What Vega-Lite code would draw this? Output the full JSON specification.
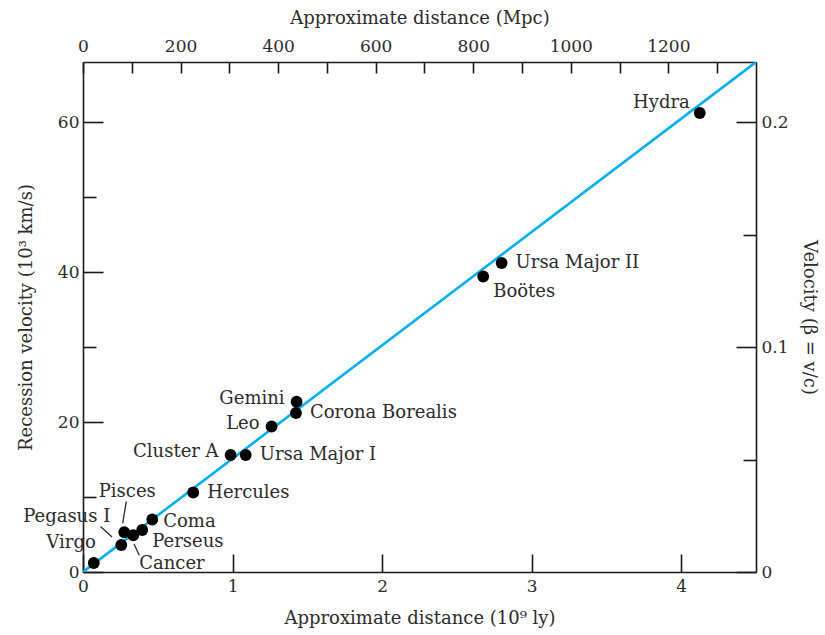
{
  "$schema": "https://vega.github.io/schema/vega-lite/v6.json",
  "width": 673,
  "height": 510,
  "autosize": {"type": "none"},
  "padding": {"left": 83, "top": 62, "right": 69, "bottom": 63},
  "background": "white",
  "config": {
    "view": {"stroke": null},
    "font": "DejaVu Serif",
    "text": {"font": "DejaVu Serif", "fontSize": 18, "color": "#2b2b2b", "baseline": "middle"},
    "axis": {
      "labelFont": "DejaVu Serif",
      "titleFont": "DejaVu Serif",
      "labelFontSize": 17,
      "titleFontSize": 18,
      "titleFontWeight": "normal",
      "labelColor": "#2b2b2b",
      "titleColor": "#2b2b2b",
      "domainColor": "#1a1a1a",
      "tickColor": "#1a1a1a",
      "domainWidth": 1.6,
      "tickWidth": 1.6,
      "grid": false,
      "labelFlush": false,
      "labelOverlap": false
    }
  },
  "datasets": {
    "clusters": [
      {"name": "Virgo", "dist": 0.072, "vel": 1.2},
      {"name": "Pegasus I", "dist": 0.256, "vel": 3.6},
      {"name": "Pisces", "dist": 0.276, "vel": 5.3},
      {"name": "Cancer", "dist": 0.336, "vel": 4.9},
      {"name": "Perseus", "dist": 0.396, "vel": 5.6},
      {"name": "Coma", "dist": 0.463, "vel": 7.0},
      {"name": "Hercules", "dist": 0.737, "vel": 10.6},
      {"name": "Cluster A", "dist": 0.987, "vel": 15.6},
      {"name": "Ursa Major I", "dist": 1.088, "vel": 15.6},
      {"name": "Leo", "dist": 1.261, "vel": 19.4},
      {"name": "Corona Borealis", "dist": 1.424, "vel": 21.2},
      {"name": "Gemini", "dist": 1.428, "vel": 22.7},
      {"name": "Boötes", "dist": 2.676, "vel": 39.4},
      {"name": "Ursa Major II", "dist": 2.799, "vel": 41.2},
      {"name": "Hydra", "dist": 4.124, "vel": 61.2}
    ],
    "fit": [
      {"dist": 0, "vel": 0},
      {"dist": 4.5, "vel": 68}
    ]
  },
  "resolve": {"axis": {"x": "independent", "y": "independent"}},
  "layer": [
    {
      "data": {"name": "fit"},
      "mark": {"type": "line", "color": "#00aeef", "strokeWidth": 2.6, "clip": true},
      "encoding": {
        "x": {
          "field": "dist", "type": "quantitative",
          "scale": {"domain": [0, 4.5], "nice": false, "zero": true},
          "axis": {
            "orient": "bottom",
            "values": [0, 1, 2, 3, 4],
            "format": "d",
            "tickSize": -18,
            "labelPadding": 24,
            "title": "Approximate distance (10⁹ ly)",
            "titlePadding": 15
          }
        },
        "y": {
          "field": "vel", "type": "quantitative",
          "scale": {"domain": [0, 68], "nice": false},
          "axis": {
            "orient": "left",
            "values": [0, 10, 20, 30, 40, 50, 60],
            "labelExpr": "datum.value % 20 == 0 ? datum.label : ''",
            "tickSize": {"condition": {"test": "datum.value % 20 == 0", "value": -20}, "value": -13},
            "labelPadding": 24,
            "title": "Recession velocity (10³ km/s)",
            "titlePadding": 22
          }
        }
      }
    },
    {
      "data": {"name": "clusters"},
      "transform": [{"filter": "datum.name == 'Pisces' || datum.name == 'Pegasus I' || datum.name == 'Cancer'"}],
      "layer": [
        {
          "transform": [{"filter": "datum.name == 'Pisces'"}],
          "mark": {"type": "point", "shape": "M-0.04,-0.22L0.05,-0.77", "size": 6400, "filled": false, "stroke": "#2b2b2b", "strokeWidth": 1.3, "opacity": 1},
          "encoding": {
            "x": {"field": "dist", "type": "quantitative", "axis": null},
            "y": {"field": "vel", "type": "quantitative", "axis": null}
          }
        },
        {
          "transform": [{"filter": "datum.name == 'Pegasus I'"}],
          "mark": {"type": "point", "shape": "M-0.52,-0.46L-0.23,-0.2", "size": 6400, "filled": false, "stroke": "#2b2b2b", "strokeWidth": 1.3, "opacity": 1},
          "encoding": {
            "x": {"field": "dist", "type": "quantitative", "axis": null},
            "y": {"field": "vel", "type": "quantitative", "axis": null}
          }
        },
        {
          "transform": [{"filter": "datum.name == 'Cancer'"}],
          "mark": {"type": "point", "shape": "M0.02,0.22L0.15,0.5", "size": 6400, "filled": false, "stroke": "#2b2b2b", "strokeWidth": 1.3, "opacity": 1},
          "encoding": {
            "x": {"field": "dist", "type": "quantitative", "axis": null},
            "y": {"field": "vel", "type": "quantitative", "axis": null}
          }
        }
      ]
    },
    {
      "data": {"name": "clusters"},
      "mark": {"type": "circle", "size": 140, "color": "#000000", "opacity": 1},
      "encoding": {
        "x": {
          "field": "dist", "type": "quantitative",
          "axis": {
            "orient": "top",
            "values": [0, 0.326156, 0.652312, 0.978468, 1.304624, 1.63078, 1.956936, 2.283092, 2.609248, 2.935404, 3.26156, 3.587716, 3.913872, 4.240028],
            "labelExpr": "round(datum.value / 0.00326156) % 200 == 0 ? format(round(datum.value / 0.00326156), 'd') : ''",
            "tickSize": -11,
            "labelPadding": 18,
            "title": "Approximate distance (Mpc)",
            "titlePadding": 10
          }
        },
        "y": {
          "field": "vel", "type": "quantitative",
          "axis": {
            "orient": "right",
            "values": [0, 15, 30, 45, 60],
            "labelExpr": "datum.value == 0 ? '0' : (datum.value % 30 == 0 ? format(datum.value / 300, '.1f') : '')",
            "tickSize": {"condition": {"test": "datum.value % 30 == 0", "value": -20}, "value": -13},
            "labelPadding": 25,
            "title": "Velocity (β  =  v/c)",
            "titleAngle": 90,
            "titlePadding": 11
          }
        }
      }
    },
    {
      "data": {"name": "clusters"},
      "encoding": {
        "x": {"field": "dist", "type": "quantitative", "axis": null},
        "y": {"field": "vel", "type": "quantitative", "axis": null},
        "text": {"field": "name"}
      },
      "layer": [
        {"transform": [{"filter": {"field": "name", "oneOf": ["Hercules", "Ursa Major I", "Corona Borealis", "Ursa Major II"]}}], "mark": {"type": "text", "align": "left", "dx": 14, "dy": 0}},
        {"transform": [{"filter": {"field": "name", "equal": "Coma"}}], "mark": {"type": "text", "align": "left", "dx": 11, "dy": 2}},
        {"transform": [{"filter": {"field": "name", "equal": "Perseus"}}], "mark": {"type": "text", "align": "left", "dx": 10, "dy": 12}},
        {"transform": [{"filter": {"field": "name", "equal": "Cancer"}}], "mark": {"type": "text", "align": "left", "dx": 6, "dy": 29}},
        {"transform": [{"filter": {"field": "name", "equal": "Boötes"}}], "mark": {"type": "text", "align": "left", "dx": 10, "dy": 15}},
        {"transform": [{"filter": {"field": "name", "oneOf": ["Cluster A", "Leo", "Gemini"]}}], "mark": {"type": "text", "align": "right", "dx": -12, "dy": -3}},
        {"transform": [{"filter": {"field": "name", "equal": "Hydra"}}], "mark": {"type": "text", "align": "right", "dx": -10, "dy": -10}},
        {"transform": [{"filter": {"field": "name", "equal": "Virgo"}}], "mark": {"type": "text", "align": "right", "dx": 2, "dy": -20}},
        {"transform": [{"filter": {"field": "name", "equal": "Pegasus I"}}], "mark": {"type": "text", "align": "right", "dx": -11, "dy": -28}},
        {"transform": [{"filter": {"field": "name", "equal": "Pisces"}}], "mark": {"type": "text", "align": "center", "dx": 3, "dy": -40}}
      ]
    }
  ]
}
